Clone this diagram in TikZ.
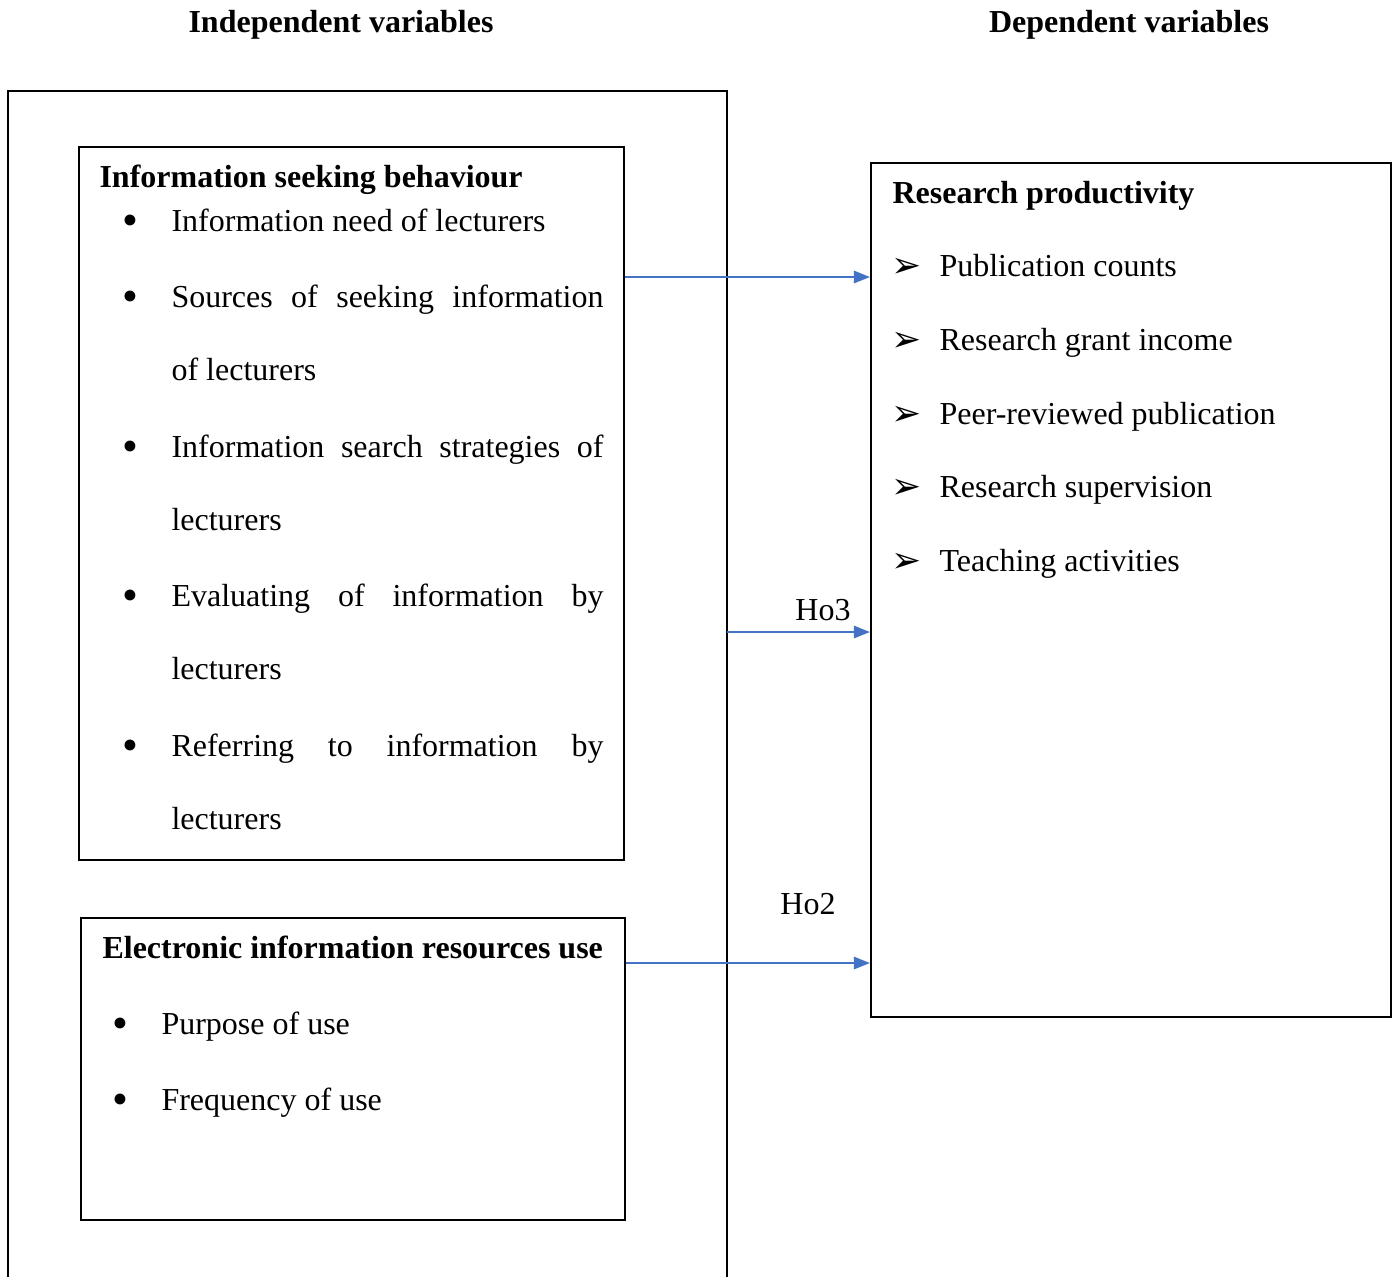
\documentclass[tikz,border=0pt]{standalone}
\usepackage{fontspec}
\setmainfont{Liberation Serif}
\newfontfamily\symfont{DejaVu Sans}
\usetikzlibrary{arrows.meta,fit}
\definecolor{arrowblue}{HTML}{4472C4}
\tikzset{
  txt/.style={inner sep=0pt, anchor=base west, font=\fontsize{12}{14}\selectfont},
  hdr/.style={inner sep=0pt, anchor=base, font=\fontsize{12}{14}\selectfont\bfseries},
  ttl/.style={inner sep=0pt, anchor=base west, font=\fontsize{12}{14}\selectfont\bfseries},
  bul/.style={inner sep=0pt, anchor=base, yshift=-1.6pt, font=\fontsize{17}{18}\selectfont},
  arr/.style={inner sep=0pt, anchor=base west, yshift=-0.4pt, font=\fontsize{13.5}{15}\selectfont\symfont},
  box/.style={draw=black, line width=0.8pt, inner sep=0pt},
  link/.style={draw=arrowblue, line width=0.75pt, -{Triangle[length=6pt,width=4.6pt]}}
}
\newcommand{\jline}[1]{\makebox[162pt][s]{#1}}
\begin{document}
\begin{tikzpicture}[x=0.375pt,y=-0.375pt]
\useasboundingbox (0,0) rectangle (1393,1277);
% headers
\node[hdr] (hin) at (341,32) {Independent variables};
\node[hdr] (hdep) at (1129,32) {Dependent variables};
% outer frame (open at bottom)
\coordinate (obl) at (8,1277);
\coordinate (otl) at (8,91);
\coordinate (otr) at (727,91);
\coordinate (obr) at (727,1277);
\draw[line width=0.8pt] (obl) -- (otl) -- (otr) -- (obr);
% boxes
\coordinate (b1a) at (79,147); \coordinate (b1b) at (624,860);
\node[box, fit=(b1a)(b1b)] (b1) {};
\coordinate (b2a) at (81,918); \coordinate (b2b) at (625,1220);
\node[box, fit=(b2a)(b2b)] (b2) {};
\coordinate (rpa) at (871,163); \coordinate (rpb) at (1391,1017);
\node[box, fit=(rpa)(rpb)] (rp) {};
% box 1 text
\node[ttl] (t1) at (99,187) {Information seeking behaviour};
\node[bul] (u1) at (130,231) {•};
\node[txt] (l1) at (171,231) {Information need of lecturers};
\node[bul] (u2) at (130,307) {•};
\node[txt] (l2) at (171,307) {\jline{Sources of seeking information}};
\node[txt] (l2b) at (171,380) {of lecturers};
\node[bul] (u3) at (130,457) {•};
\node[txt] (l3) at (171,457) {\jline{Information search strategies of}};
\node[txt] (l3b) at (171,530) {lecturers};
\node[bul] (u4) at (130,606) {•};
\node[txt] (l4) at (171,606) {\jline{Evaluating of information by}};
\node[txt] (l4b) at (171,679) {lecturers};
\node[bul] (u5) at (130,756) {•};
\node[txt] (l5) at (171,756) {\jline{Referring to information by}};
\node[txt] (l5b) at (171,829) {lecturers};
% box 2 text
\node[ttl] (t2) at (102,958) {Electronic information resources use};
\node[bul] (v1) at (120,1034) {•};
\node[txt] (m1) at (161,1034) {Purpose of use};
\node[bul] (v2) at (120,1110) {•};
\node[txt] (m2) at (161,1110) {Frequency of use};
% right box text
\node[ttl] (t3) at (892,203) {Research productivity};
\node[arr] (a1) at (891,276) {➢};
\node[txt] (r1) at (939,276) {Publication counts};
\node[arr] (a2) at (891,350) {➢};
\node[txt] (r2) at (939,350) {Research grant income};
\node[arr] (a3) at (891,424) {➢};
\node[txt] (r3) at (939,424) {Peer-reviewed publication};
\node[arr] (a4) at (891,497) {➢};
\node[txt] (r4) at (939,497) {Research supervision};
\node[arr] (a5) at (891,571) {➢};
\node[txt] (r5) at (939,571) {Teaching activities};
% connectors
\coordinate (y1) at (0,277);
\coordinate (y3) at (727,632);
\coordinate (y2) at (0,963);
\draw[link] (b1.east |- y1) -- (rp.west |- y1);
\draw[link] (y3) -- (rp.west |- y3);
\draw[link] (b2.east |- y2) -- (rp.west |- y2);
\node[txt, anchor=base] (h3) at (823,620) {Ho3};
\node[txt, anchor=base] (h2) at (808,914) {Ho2};
\end{tikzpicture}
\end{document}
